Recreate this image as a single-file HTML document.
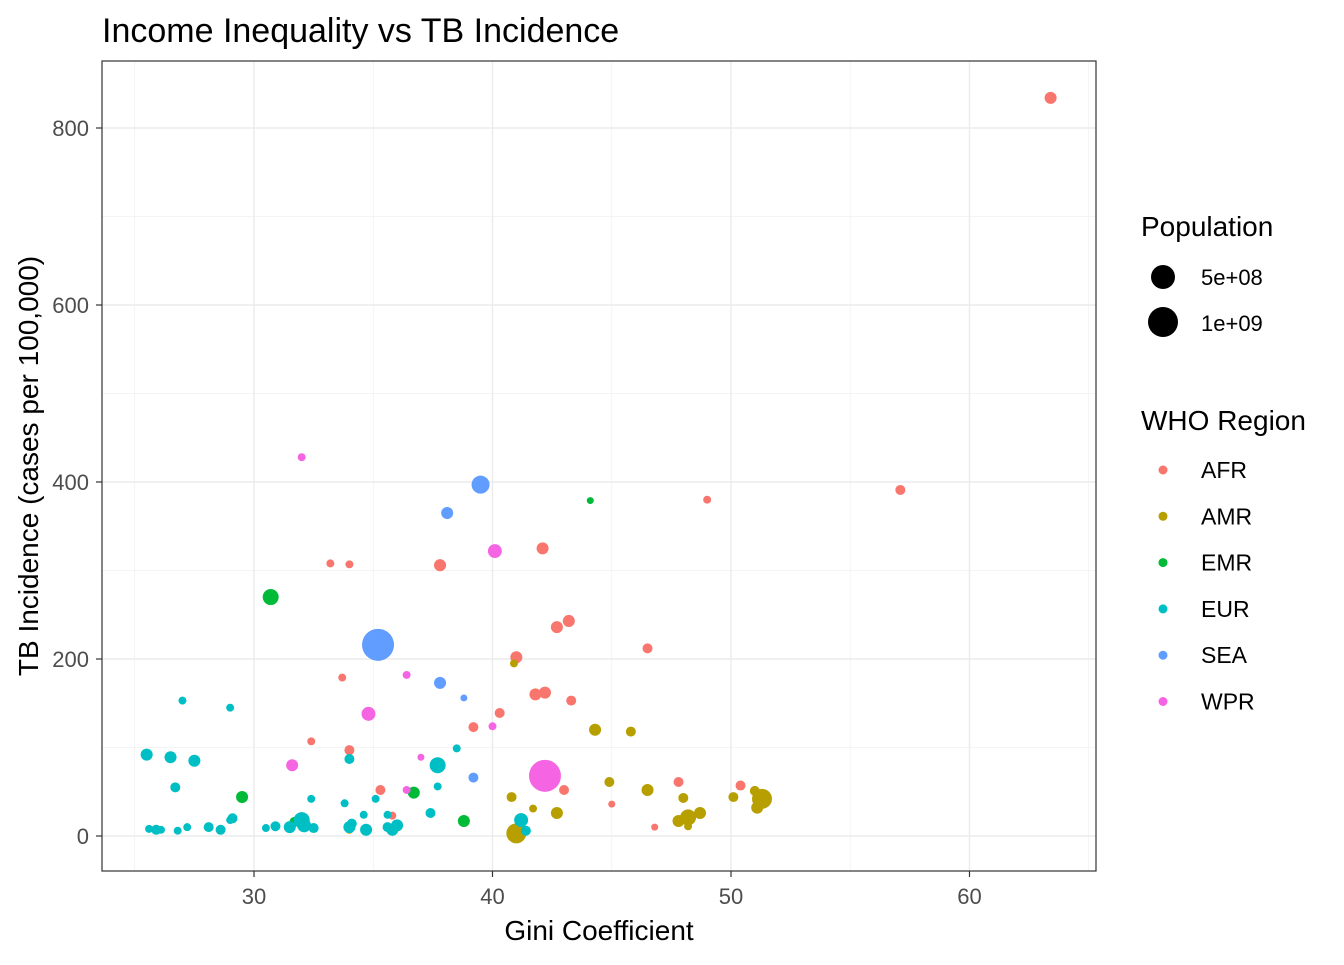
<!DOCTYPE html>
<html><head><meta charset="utf-8"><style>
body{margin:0;background:#fff;}
svg{font-family:"Liberation Sans",Arial,sans-serif;}
</style></head><body>
<svg id="chart" width="1344" height="960" viewBox="0 0 1344 960">
<text x="102" y="42" font-size="34" fill="#000">Income Inequality vs TB Incidence</text>
<rect x="102" y="61" width="994" height="810" fill="#fff"/>
<g id="grid"></g>
<g id="pts"></g>
<rect x="102" y="61" width="994" height="810" fill="none" stroke="#333" stroke-width="1.2"/>
<g id="axes"></g>
<text x="599" y="940" font-size="28" text-anchor="middle">Gini Coefficient</text>
<text transform="translate(38,466) rotate(-90)" font-size="28" text-anchor="middle">TB Incidence (cases per 100,000)</text>
<g>
<text x="1141" y="236" font-size="28">Population</text>
<circle cx="1163" cy="277" r="12" fill="#000"/>
<text x="1201" y="285" font-size="22">5e+08</text>
<circle cx="1163" cy="322" r="15" fill="#000"/>
<text x="1201" y="331" font-size="22">1e+09</text>
</g>
<g id="legend">
<text x="1141" y="430" font-size="28">WHO Region</text>
</g>
</svg>
<script>
const regions = ["AFR","AMR","EMR","EUR","SEA","WPR"];
const colors = ["#F8766D","#B79F00","#00BA38","#00BFC4","#619CFF","#F564E3"];
const xTicks = [30,40,50,60];
const yTicks = [0,200,400,600,800];
// gini, tb, region index, population (millions)
const gini = [63.4,57.1,49.0,33.2,34.0,37.8,42.1,43.2,42.7,41.0,46.5,33.7,42.2,41.8,43.3,40.3,39.2,32.4,34.0,47.8,50.4,35.3,43.0,45.0,46.8,35.8,
40.9,44.3,45.8,44.9,46.5,40.8,48.0,50.1,51.3,51.1,51.0,41.7,42.7,48.7,48.2,47.8,48.2,41.0,34.0,
30.7,44.1,29.5,36.7,38.8,31.7,
27.0,29.0,25.5,26.5,27.5,26.7,38.5,37.7,34.0,37.7,32.4,33.8,35.1,37.4,35.6,29.1,29.0,25.6,25.9,26.1,26.8,27.2,28.1,28.6,30.5,30.9,31.5,32.0,32.1,32.5,34.0,34.1,34.7,34.6,35.6,35.8,36.0,41.2,41.4,
39.5,38.1,35.2,37.8,38.8,39.2,
32.0,40.1,34.8,36.4,40.0,31.6,37.0,36.4,42.2];
const tb = [834,391,380,308,307,306,325,243,236,202,212,179,162,160,153,139,123,107,97,61,57,52,52,36,10,23,
195,120,118,61,52,44,43,44,42,32,51,31,26,26,21,17,11,3,7,
270,379,44,49,17,16,
153,145,92,89,85,55,99,80,87,56,42,37,42,26,24,20,18,8,7,7,6,10,10,7,9,11,10,18,12,9,10,14,7,24,10,7,12,18,6,
397,365,216,173,156,66,
428,322,138,182,124,80,89,52,68];
const region = [0,0,0,0,0,0,0,0,0,0,0,0,0,0,0,0,0,0,0,0,0,0,0,0,0,0,
1,1,1,1,1,1,1,1,1,1,1,1,1,1,1,1,1,1,1,
2,2,2,2,2,2,
3,3,3,3,3,3,3,3,3,3,3,3,3,3,3,3,3,3,3,3,3,3,3,3,3,3,3,3,3,3,3,3,3,3,3,3,3,3,3,
4,4,4,4,4,4,
5,5,5,5,5,5,5,5,5];
const pop = [75,33,8,8,8,75,75,75,75,75,33,8,75,75,33,33,33,8,33,33,33,33,33,2,2,8,
8,75,33,33,75,33,33,33,405,75,33,8,75,75,207,75,8,405,8,
207,2,75,75,75,33,
8,8,75,75,75,33,8,207,33,8,8,8,8,33,8,33,8,8,33,8,8,8,33,33,8,33,75,207,130,33,75,33,75,8,33,75,75,130,33,
300,75,1400,75,2,33,
8,130,130,8,8,75,2,8,1400];
const X = v => 254 + (v-30)*23.85;
const Y = v => 836 - v*0.885;
const R = p => 3 + 13*Math.sqrt(p/1400);
const NS = "http://www.w3.org/2000/svg";
const grid = document.getElementById("grid"), axes = document.getElementById("axes"), pts = document.getElementById("pts");
function mk(tag, attrs, parent){const e=document.createElementNS(NS,tag);for(const k in attrs)e.setAttribute(k,attrs[k]);parent.appendChild(e);return e;}
[25,35,45,55,65].forEach(v=>{const l=mk("line",{x1:X(v),x2:X(v),y1:61,y2:871,stroke:"#f0f0f0","stroke-width":0.8},grid);

});
[100,300,500,700].forEach(v=>{const l=mk("line",{x1:102,x2:1096,y1:Y(v),y2:Y(v),stroke:"#f0f0f0","stroke-width":0.8},grid);

});
xTicks.forEach(v=>{const l=mk("line",{x1:X(v),x2:X(v),y1:61,y2:871,stroke:"#ebebeb","stroke-width":1.4},grid);


const t=mk("line",{x1:X(v),x2:X(v),y1:871,y2:877,stroke:"#333","stroke-width":1.2},axes);


const tx=mk("text",{x:X(v),y:904,"font-size":22,fill:"#4d4d4d","text-anchor":"middle"},axes);tx.textContent=v;

});
yTicks.forEach(v=>{const l=mk("line",{x1:102,x2:1096,y1:Y(v),y2:Y(v),stroke:"#ebebeb","stroke-width":1.4},grid);


const t=mk("line",{x1:96,x2:102,y1:Y(v),y2:Y(v),stroke:"#333","stroke-width":1.2},axes);


const tx=mk("text",{x:89,y:Y(v)+8,"font-size":22,fill:"#4d4d4d","text-anchor":"end"},axes);tx.textContent=v;

});
gini.forEach((g,i)=>{const c=mk("circle",{cx:X(g),cy:Y(tb[i]),r:R(pop[i]),fill:colors[region[i]]},pts);

});
const lg=document.getElementById("legend");
regions.forEach((r,i)=>{const y=470+i*46.3;
const c=mk("circle",{cx:1163,cy:y,r:4.5,fill:colors[i]},lg);


const t=mk("text",{x:1201,y:y+8,"font-size":23},lg);t.textContent=r;

});
</script>
</body></html>
